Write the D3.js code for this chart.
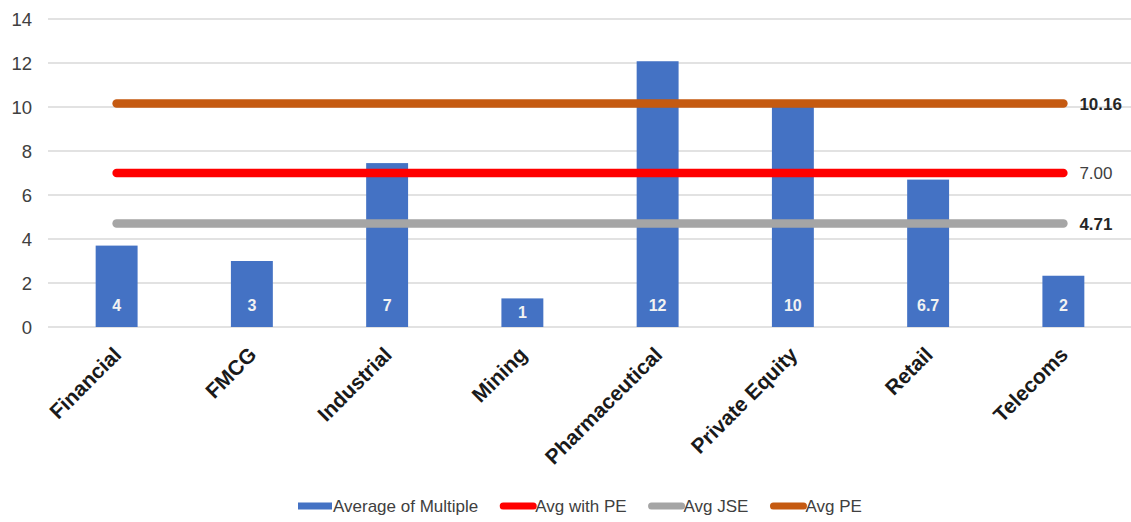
<!DOCTYPE html>
<html>
<head>
<meta charset="utf-8">
<script src="https://cdn.jsdelivr.net/npm/d3@7"></script>
<style>
  html, body { margin: 0; padding: 0; background: #ffffff; }
  svg { display: block; font-family: "Liberation Sans", Arial, sans-serif; }
</style>
</head>
<body>
<svg id="chart" width="1131" height="522"></svg>
<script>
// Sector multiples with three benchmark averages
const categories = ["Financial", "FMCG", "Industrial", "Mining", "Pharmaceutical", "Private Equity", "Retail", "Telecoms"];
const multiples = [3.7, 3.0, 7.45, 1.3, 12.08, 10.0, 6.7, 2.33];
const multipleDecimals = [0, 0, 0, 0, 0, 0, 1, 0];

const refNames = ["Avg with PE", "Avg JSE", "Avg PE"];
const refValues = [7.00, 4.71, 10.16];

const barSeriesName = "Average of Multiple";
const yTickValues = [0, 2, 4, 6, 8, 10, 12, 14];

// Styling
const barColor = "#4472C4";
const refColors = ["#FF0000", "#A5A5A5", "#C55A11"];
const refLabelWeights = ["normal", "bold", "bold"];

const svg = d3.select("#chart");
const W = 1131, H = 522;
const plot = { left: 49, right: 1131, top: 19, bottom: 327 };

const x = d3.scaleBand()
  .domain(categories)
  .range([plot.left, plot.right])
  .paddingInner(0.69)
  .paddingOuter(0.345);

const y = d3.scaleLinear()
  .domain([0, 14])
  .range([plot.bottom, plot.top]);

// Horizontal gridlines
svg.append("g")
  .selectAll("line")
  .data(yTickValues)
  .join("line")
  .attr("x1", plot.left - 1)
  .attr("x2", plot.right)
  .attr("y1", d => y(d))
  .attr("y2", d => y(d))
  .attr("stroke", "#d9d9d9")
  .attr("stroke-width", 1.5);

// Y axis labels
const yAxis = d3.axisLeft(y).tickValues(yTickValues).tickSize(0).tickPadding(0).tickFormat(d3.format("d"));
const yg = svg.append("g")
  .attr("transform", `translate(32,0)`)
  .call(yAxis);
yg.select(".domain").remove();
yg.selectAll("text")
  .attr("font-family", "Liberation Sans, Arial, sans-serif")
  .attr("font-size", 18.5)
  .attr("fill", "#404040")
  .attr("dy", "0.36em");

// Bars
const barData = categories.map((c, i) => ({ cat: c, value: multiples[i], dec: multipleDecimals[i] }));
svg.append("g")
  .selectAll("rect")
  .data(barData)
  .join("rect")
  .attr("x", d => x(d.cat))
  .attr("width", x.bandwidth())
  .attr("y", d => y(d.value))
  .attr("height", d => y(0) - y(d.value))
  .attr("fill", barColor);

// Value labels near the base of each bar
svg.append("g")
  .selectAll("text")
  .data(barData)
  .join("text")
  .attr("x", d => x(d.cat) + x.bandwidth() / 2)
  .attr("y", d => Math.max(y(0) - 22, (y(0) + y(d.value)) / 2))
  .attr("dy", "0.36em")
  .attr("text-anchor", "middle")
  .attr("font-size", 16)
  .attr("font-weight", "bold")
  .attr("fill", "#f2f2f2")
  .text(d => d3.format(`.${d.dec}f`)(d.value));

// Benchmark lines spanning first to last category
const x0 = x(categories[0]) + x.bandwidth() / 2;
const x1 = x(categories[categories.length - 1]) + x.bandwidth() / 2;
const refData = refNames.map((n, i) => ({ name: n, value: refValues[i], color: refColors[i], weight: refLabelWeights[i] }));
// draw order: grey, red, orange
const drawOrder = [1, 0, 2].map(i => refData[i]);
svg.append("g")
  .selectAll("line")
  .data(drawOrder)
  .join("line")
  .attr("x1", x0)
  .attr("x2", x1)
  .attr("y1", d => y(d.value))
  .attr("y2", d => y(d.value))
  .attr("stroke", d => d.color)
  .attr("stroke-width", 8.5)
  .attr("stroke-linecap", "round");

svg.append("g")
  .selectAll("text")
  .data(refData)
  .join("text")
  .attr("x", x1 + 16)
  .attr("y", d => y(d.value))
  .attr("dy", "0.36em")
  .attr("font-size", 17)
  .attr("font-weight", d => d.weight)
  .attr("fill", d => d.weight === "bold" ? "#262626" : "#404040")
  .text(d => d3.format(".2f")(d.value));

// Category labels, rotated
svg.append("g")
  .selectAll("text")
  .data(categories)
  .join("text")
  .attr("transform", d => `translate(${x(d) + x.bandwidth() / 2 + 6},356) rotate(-45)`)
  .attr("text-anchor", "end")
  .attr("font-size", 21)
  .attr("font-weight", "bold")
  .attr("fill", "#1a1a1a")
  .text(d => d);

// Legend
const legendItems = [
  { name: barSeriesName, color: barColor, kind: "rect" },
  ...refData.map(d => ({ name: d.name, color: d.color, kind: "line" }))
];
const legend = svg.append("g");
let lx = 298;
const ly = 506;
legendItems.forEach(item => {
  const g = legend.append("g");
  if (item.kind === "rect") {
    g.append("rect").attr("x", lx).attr("y", ly - 3.5).attr("width", 34).attr("height", 7).attr("fill", item.color);
  } else {
    g.append("line").attr("x1", lx + 3).attr("x2", lx + 33).attr("y1", ly).attr("y2", ly)
      .attr("stroke", item.color).attr("stroke-width", 7).attr("stroke-linecap", "round");
  }
  const t = g.append("text")
    .attr("x", lx + 35)
    .attr("y", ly)
    .attr("dy", "0.36em")
    .attr("font-size", 17)
    .attr("fill", "#404040")
    .text(item.name);
  lx += 35 + t.node().getComputedTextLength() + 22;
});
</script>
</body>
</html>
